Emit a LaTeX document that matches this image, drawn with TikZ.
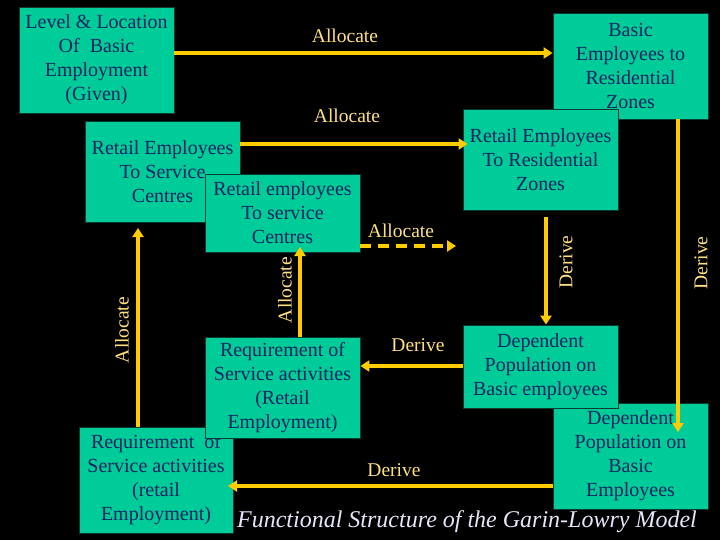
\documentclass[tikz,border=0pt]{standalone}
\usepackage{fontspec}
\setmainfont{Liberation Serif}
\usetikzlibrary{arrows.meta}
\definecolor{boxfill}{RGB}{0,204,153}
\definecolor{boxtext}{RGB}{15,35,95}
\definecolor{arrowcol}{RGB}{255,204,0}
\definecolor{labelcol}{RGB}{255,224,128}
\definecolor{titlecol}{RGB}{230,230,250}
\definecolor{edgecol}{RGB}{10,60,50}
\begin{document}
\begin{tikzpicture}[x=1pt,y=-1pt,
 box/.style={fill=boxfill, draw=edgecol, line width=0.8pt, text=boxtext, align=center, inner sep=0pt, font=\fontsize{20}{24}\selectfont},
 arr/.style={draw=arrowcol, line width=4pt, -{Triangle[length=9pt,width=11pt]}},
 lbl/.style={text=labelcol, font=\fontsize{19.5}{24}\selectfont, inner sep=0pt}]
\fill[black] (0,0) rectangle (720,540);
\useasboundingbox (0,0) rectangle (720,540);
% boxes
\node[box, minimum width=155pt, minimum height=106pt] (b1) at (96.5,60) {Level \& Location\\Of\ \ Basic\\Employment\\(Given)};
\node[box, minimum width=155pt, minimum height=106pt] (b2) at (630.5,66) {Basic\\Employees to\\Residential\\Zones};
\node[box, minimum width=155pt, minimum height=101pt] (b3) at (162.5,171.5) {Retail Employees\\To Service\\Centres};
\node[box, minimum width=155pt, minimum height=101pt] (b5) at (540.5,159.5) {Retail Employees\\To Residential\\Zones};
\node[box, minimum width=155pt, minimum height=78pt] (b4) at (282.5,213) {Retail employees\\To service\\Centres};
\node[box, minimum width=154pt, minimum height=106pt] (b7) at (156,480) {Requirement\ \ of\\Service activities\\(retail\\Employment)};
\node[box, minimum width=155pt, minimum height=101pt] (b6) at (282.5,387.5) {Requirement of\\Service activities\\(Retail\\Employment)};
\node[box, minimum width=155pt, minimum height=106pt] (b9) at (630.5,456) {Dependent\\Population on\\Basic\\Employees};
\node[box, minimum width=155pt, minimum height=83pt] (b8) at (540.5,366.5) {Dependent\\Population on\\Basic employees};
% helper coordinates
\coordinate (a1) at (0,53);
\coordinate (a2) at (0,144);
\coordinate (d3) at (456,246);
\coordinate (v1) at (546,0);
\coordinate (v2) at (678,432);
\coordinate (h1) at (0,366);
\coordinate (h2) at (228,486);
\coordinate (v3) at (138,228);
\coordinate (v4) at (300,247);
% connectors
\draw[arr] (b1.east |- a1) -- (b2.west |- a1);
\draw[arr] (b3.east |- a2) -- ([xshift=5pt]b5.west |- a2);
\draw[arr, dash pattern=on 11pt off 7pt] (b4.east |- d3) -- (d3);
\draw[arr, shorten <=7pt] (b5.south -| v1) -- (b8.north -| v1);
\draw[arr] (b2.south -| v2) -- (v2);
\draw[arr] (b8.west |- h1) -- (b6.east |- h1);
\draw[arr] (b9.west |- h2) -- (h2);
\draw[arr] (b7.north -| v3) -- (v3);
\draw[arr] (b6.north -| v4) -- (v4);
% labels
\node[lbl] (l1) at (345,36) {Allocate};
\node[lbl] (l2) at (347,116) {Allocate};
\node[lbl] (l3) at (401,231) {Allocate};
\node[lbl, rotate=90] (l4) at (566,262) {Derive};
\node[lbl, rotate=90] (l5) at (701,263) {Derive};
\node[lbl] (l6) at (418,345) {Derive};
\node[lbl] (l7) at (394,470) {Derive};
\node[lbl, rotate=90] (l8) at (122,330) {Allocate};
\node[lbl, rotate=90] (l9) at (285,290) {Allocate};
\node[text=titlecol, inner sep=0pt, font=\fontsize{24}{28}\selectfont\itshape] (title) at (467,522) {Functional Structure of the Garin-Lowry Model};
\end{tikzpicture}
\end{document}
